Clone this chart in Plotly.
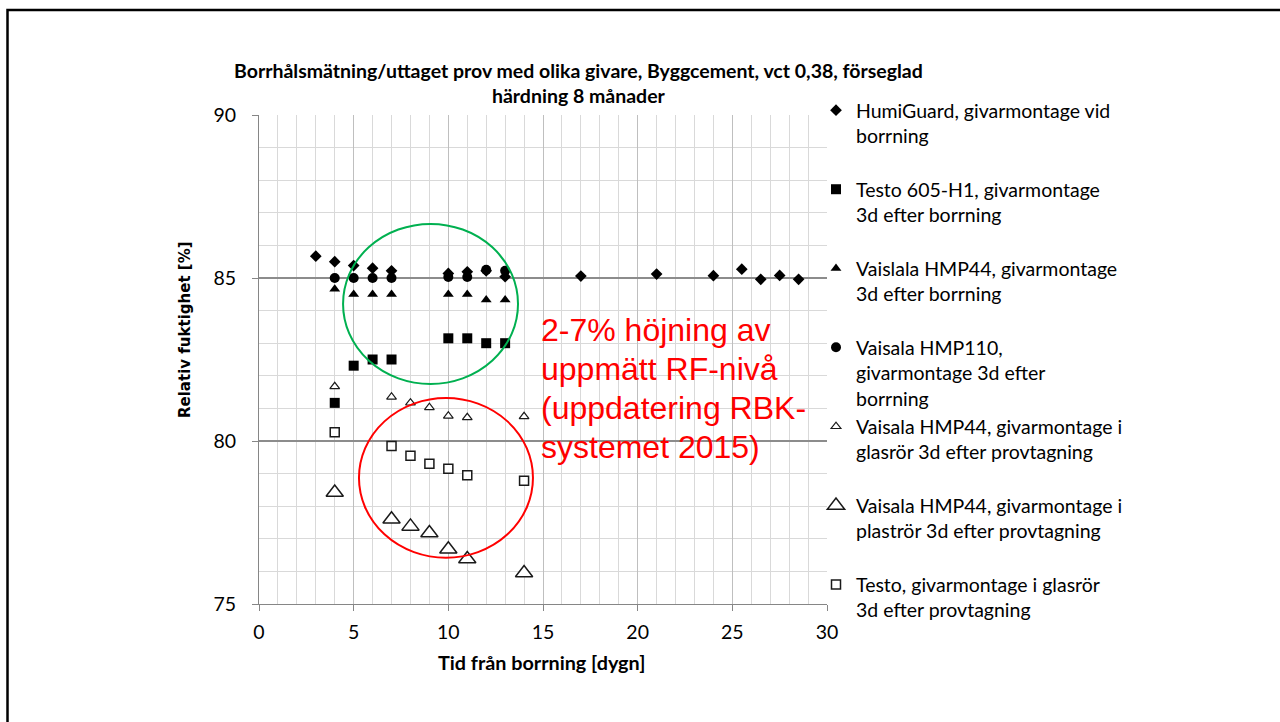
import plotly.graph_objects as go

# ---------------- data ----------------
humi_x = [3, 4, 5, 6, 7, 10, 11, 12, 13, 17, 21, 24, 25.5, 26.5, 27.5, 28.5]
humi_y = [85.67, 85.5, 85.38, 85.3, 85.22, 85.14, 85.19, 85.22, 85.04, 85.06, 85.12, 85.07, 85.27, 84.96, 85.08, 84.96]

testo605_x = [4, 5, 6, 7, 10, 11, 12, 13]
testo605_y = [81.17, 82.31, 82.5, 82.5, 83.15, 83.15, 83.0, 83.0]

hmp44_x = [4, 5, 6, 7, 10, 11, 12, 13]
hmp44_y = [84.66, 84.5, 84.5, 84.5, 84.5, 84.5, 84.33, 84.33]

hmp110_x = [4, 5, 6, 7, 10, 11, 12, 13]
hmp110_y = [85.0, 85.0, 85.0, 85.0, 85.03, 85.03, 85.25, 85.22]

glas44_x = [4, 7, 8, 9, 10, 11, 14]
glas44_y = [81.67, 81.35, 81.17, 81.03, 80.77, 80.72, 80.75]

plast44_x = [4, 7, 8, 9, 10, 11, 14]
plast44_y = [78.42, 77.6, 77.38, 77.18, 76.68, 76.38, 75.95]

testoglas_x = [4, 7, 8, 9, 10, 11, 14]
testoglas_y = [80.27, 79.85, 79.55, 79.3, 79.15, 78.95, 78.78]

series_names = [
    "HumiGuard, givarmontage vid<br>borrning<br>\u00a0",
    "Testo 605-H1, givarmontage<br>3d efter borrning<br>\u00a0",
    "Vaislala HMP44, givarmontage<br>3d efter borrning<br>\u00a0",
    "Vaisala HMP110,<br>givarmontage 3d efter<br>borrning",
    "Vaisala HMP44, givarmontage i<br>glasrör 3d efter provtagning<br>\u00a0",
    "Vaisala HMP44, givarmontage i<br>plaströr 3d efter provtagning<br>\u00a0",
    "Testo, givarmontage i glasrör<br>3d efter provtagning<br>\u00a0",
]

x_ticks = [0, 5, 10, 15, 20, 25, 30]
y_ticks = [75, 80, 85, 90]

title_text = "Borrhålsmätning/uttaget prov med olika givare, Byggcement, vct 0,38, förseglad<br>härdning 8 månader"
x_title = "Tid från borrning [dygn]"
y_title = "Relativ fuktighet [%]"
note_lines = ["2-7% höjning av", "uppmätt RF-nivå", "(uppdatering RBK-", "systemet 2015)"]

# ---------------- figure ----------------
L, R, T, B = 259, 827, 115, 604
W, H = 1280, 722


def px2x(px):
    return (px - L) / (R - L)


def px2y(py):
    return (B - py) / (B - T)


fig = go.Figure()

styles = [
    dict(symbol="diamond", size=9, color="black", line=dict(width=0)),
    dict(symbol="square", size=10, color="black", line=dict(width=0)),
    dict(symbol="triangle-up", size=9.5, color="black", line=dict(width=0)),
    dict(symbol="circle", size=10, color="black", line=dict(width=0)),
    dict(symbol="triangle-up", size=8.5, color="white", line=dict(width=1.2, color="#1a1a1a")),
    dict(symbol="triangle-up", size=15, color="white", line=dict(width=1.5, color="#1a1a1a")),
    dict(symbol="square", size=9, color="white", line=dict(width=1.5, color="#1a1a1a")),
]
data_xy = [
    (humi_x, humi_y), (testo605_x, testo605_y), (hmp44_x, hmp44_y), (hmp110_x, hmp110_y),
    (glas44_x, glas44_y), (plast44_x, plast44_y), (testoglas_x, testoglas_y),
]
order = [3, 0, 1, 2, 4, 6, 5]  # drawing order
traces = [None] * 7
for i, ((xs, ys), st, nm) in enumerate(zip(data_xy, styles, series_names)):
    traces[i] = go.Scatter(x=xs, y=ys, mode="markers", name=nm, marker=st,
                           legendgroup=f"g{i}", legendrank=i + 1)
for i in order:
    fig.add_trace(traces[i])

font_main = "Lato, Calibri, Carlito, sans-serif"

fig.update_layout(
    width=W, height=H,
    margin=dict(l=L, r=W - R, t=T, b=H - B, pad=0),
    paper_bgcolor="white", plot_bgcolor="white",
    font=dict(family=font_main, size=19, color="black"),
    showlegend=True,
    legend=dict(
        x=px2x(816), y=px2y(91), xanchor="left", yanchor="top",
        valign="top", tracegroupgap=0, bgcolor="rgba(0,0,0,0)",
        font=dict(family=font_main, size=19.5, color="black"),
        itemclick=False, maxheight=1000,
    ),
    xaxis=dict(
        range=[0, 30], tickvals=x_ticks, ticktext=[str(v) for v in x_ticks],
        showgrid=True, gridcolor="#bfbfbf", gridwidth=1,
        minor=dict(dtick=1, tick0=0, showgrid=True, gridcolor="#d9d9d9", gridwidth=1),
        showline=True, linecolor="#868686", linewidth=1,
        ticks="outside", ticklen=6, tickcolor="#868686",
        ticklabelstandoff=5, zeroline=False,
        tickfont=dict(family=font_main, size=19.5),
    ),
    yaxis=dict(
        range=[75, 90], tickvals=y_ticks, ticktext=[str(v) for v in y_ticks],
        showgrid=True, gridcolor="#8c8c8c", gridwidth=2,
        minor=dict(dtick=1, tick0=75, showgrid=True, gridcolor="#d9d9d9", gridwidth=1),
        showline=True, linecolor="#868686", linewidth=1,
        ticks="outside", ticklen=6, tickcolor="#868686",
        ticklabelstandoff=12, zeroline=False,
        tickfont=dict(family=font_main, size=19.5),
    ),
)

# white box behind the note (covers grid, below markers)
fig.add_shape(type="rect", xref="paper", yref="paper",
              x0=px2x(532), x1=px2x(829), y0=px2y(470), y1=px2y(304),
              fillcolor="white", line=dict(width=0), layer="between")
# ellipses
fig.add_shape(type="circle", xref="x", yref="y", x0=4.44, x1=13.68, y0=81.75, y1=86.66,
              line=dict(color="#00b050", width=2), layer="above")
fig.add_shape(type="circle", xref="x", yref="y", x0=5.28, x1=14.47, y0=76.42, y1=81.32,
              line=dict(color="#ff0000", width=2), layer="above")
# slide frame
fig.add_shape(type="rect", xref="paper", yref="paper",
              x0=px2x(7.5), x1=px2x(1300), y0=px2y(740), y1=px2y(10),
              line=dict(color="black", width=2.5), fillcolor="rgba(0,0,0,0)", layer="above")

# titles
fig.add_annotation(text="<b>" + title_text.replace("<br>", "</b><br><b>") + "</b>",
                   xref="paper", yref="paper", x=px2x(578), y=px2y(83),
                   xanchor="center", yanchor="middle", showarrow=False, align="center",
                   font=dict(family=font_main, size=19.5, color="black"))
fig.add_annotation(text="<b>" + x_title + "</b>", xref="paper", yref="paper",
                   x=px2x(541), y=px2y(662), xanchor="center", yanchor="middle",
                   showarrow=False, font=dict(family=font_main, size=19.8, color="black"))
fig.add_annotation(text="<b>" + y_title + "</b>", xref="paper", yref="paper",
                   x=px2x(185), y=px2y(330), xanchor="center", yanchor="middle",
                   textangle=-90, showarrow=False,
                   font=dict(family="DejaVu Sans, Verdana, sans-serif", size=15, color="black"))
# red note, one annotation per line to match the line spacing
for k, line in enumerate(note_lines):
    fig.add_annotation(text=line, xref="paper", yref="paper",
                       x=px2x(539), y=px2y(330 + 39 * k), xanchor="left", yanchor="middle",
                       align="left", showarrow=False,
                       font=dict(family="Liberation Sans, Arial, sans-serif", size=32, color="#ff0000"))

fig.write_html("out.html", config={"displayModeBar": False},
               post_script="document.body.style.margin='0';")
